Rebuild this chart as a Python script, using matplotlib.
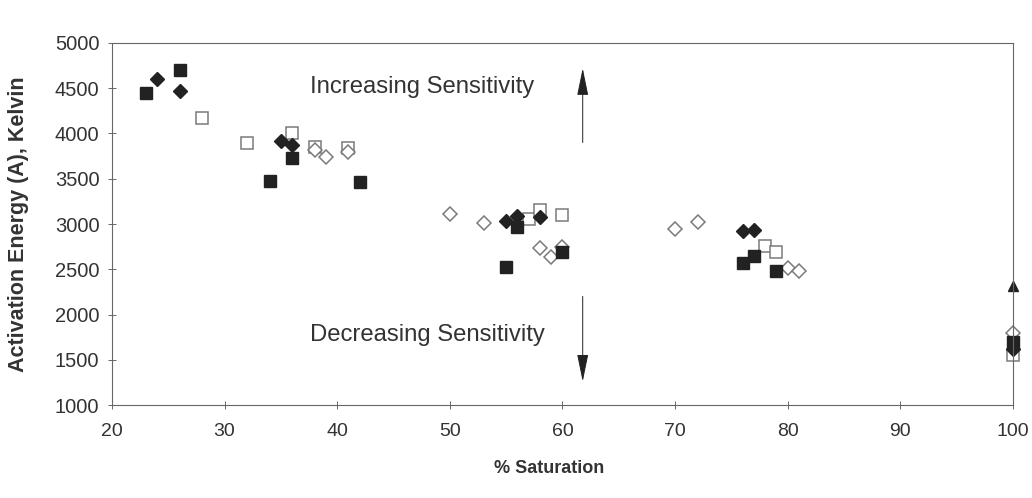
import matplotlib
matplotlib.use("Agg")
import matplotlib.pyplot as plt

plt.rcParams['font.family'] = ['Liberation Sans', 'DejaVu Sans']

# filled squares
fsq_x = [23, 26, 34, 36, 42, 55, 56, 60, 76, 77, 79, 100]
fsq_y = [4450, 4700, 3480, 3730, 3460, 2530, 2970, 2690, 2570, 2650, 2480, 1700]

# filled diamonds
fdm_x = [24, 26, 35, 36, 55, 56, 58, 76, 77, 100]
fdm_y = [4600, 4470, 3920, 3870, 3030, 3090, 3080, 2920, 2930, 1620]

# open squares
osq_x = [28, 32, 36, 38, 41, 57, 58, 60, 78, 79, 100]
osq_y = [4170, 3900, 4000, 3850, 3840, 3050, 3150, 3100, 2760, 2690, 1550]

# open diamonds
odm_x = [38, 39, 41, 50, 53, 58, 59, 60, 70, 72, 80, 81, 100]
odm_y = [3820, 3740, 3790, 3110, 3010, 2730, 2640, 2750, 2940, 3020, 2510, 2480, 1800]

# off-scale marker at 100 %
up_x = [100]
up_y = [2310]

fig = plt.figure(figsize=(10.32, 4.98), dpi=100)
ax = fig.add_axes([0.1085, 0.1867, 0.873, 0.727])

ax.plot(osq_x, osq_y, 's', ms=8.5, mfc='white', mec='#7a7a7a', mew=1.1, ls='none', clip_on=False)
ax.plot(odm_x, odm_y, 'D', ms=7.5, mfc='white', mec='#7a7a7a', mew=1.1, ls='none', clip_on=False)
ax.plot(fsq_x, fsq_y, 's', ms=8, color='#222222', ls='none', clip_on=False)
ax.plot(fdm_x, fdm_y, 'D', ms=7, color='#222222', ls='none', clip_on=False)
ax.plot(up_x, up_y, '^', ms=7, color='#222222', ls='none', clip_on=False)

arrow = dict(arrowstyle='-|>,head_length=1.7,head_width=0.35', color='#222222',
             lw=0.7, shrinkA=0, shrinkB=0)
ax.annotate('', xy=(61.8, 4720), xytext=(61.8, 3900), arrowprops=arrow)
ax.annotate('', xy=(61.8, 1260), xytext=(61.8, 2200), arrowprops=arrow)

ax.text(47.5, 4510, 'Increasing Sensitivity', fontsize=17.2, color='#333333',
        ha='center', va='center')
ax.text(48, 1770, 'Decreasing Sensitivity', fontsize=17.2, color='#333333',
        ha='center', va='center')

ax.set_xlim(20, 100)
ax.set_ylim(1000, 5000)
ax.set_xticks(range(20, 101, 10))
ax.set_yticks(range(1000, 5001, 500))

for s in ax.spines.values():
    s.set_color('#666666')
    s.set_linewidth(0.8)

ax.tick_params(direction='inout', length=6, width=0.7, color='#666666')
ax.tick_params(axis='y', labelsize=14.5, labelcolor='#333333', pad=6)
ax.tick_params(axis='x', labelsize=14, labelcolor='#333333', pad=10)

ax.set_ylabel('Activation Energy (A), Kelvin', fontsize=15.5, fontweight='bold',
              color='#333333')
ax.yaxis.set_label_coords(-0.092, 0.5)
ax.set_xlabel('% Saturation', fontsize=13, fontweight='bold', color='#333333')
ax.xaxis.set_label_coords(0.485, -0.151)

fig.savefig('out.png', dpi=100)
